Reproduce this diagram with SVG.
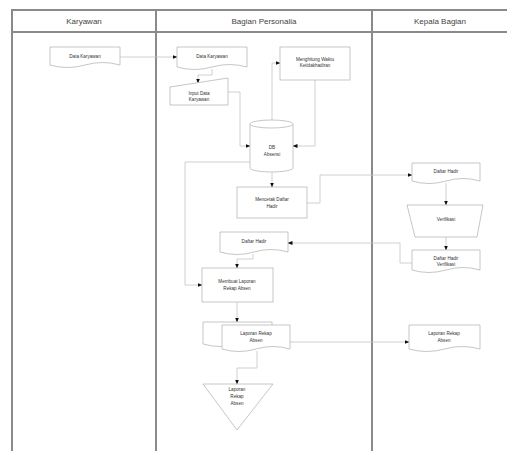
<svg xmlns="http://www.w3.org/2000/svg" width="507" height="451" viewBox="0 0 507 451">
<style>
.lane{stroke:#8a8a8a;stroke-width:2;fill:none}
.hd{font-family:"Liberation Sans",Arial,sans-serif;font-size:8px;fill:#444;text-anchor:middle}
.sh{fill:#fff;stroke:#b8b8b8;stroke-width:0.8}
.t{font-family:"Liberation Sans",Arial,sans-serif;font-size:4.6px;fill:#333;text-anchor:middle}
.c{fill:none;stroke:#c4c4c4;stroke-width:0.8;marker-end:url(#ah)}
</style>
<defs>
<marker id="ah" viewBox="0 0 10 10" refX="9" refY="5" markerWidth="5" markerHeight="5" markerUnits="userSpaceOnUse" orient="auto">
<path d="M0,1 L10,5 L0,9 Z" fill="#111"/>
</marker>
</defs>
<rect width="507" height="451" fill="#fff"/>
<g id="lanes">
<path class="lane" d="M12,451 V10 H507 M12,32 H507 M156,10 V451 M372,10 V451"/>
<text class="hd" x="84" y="24">Karyawan</text>
<text class="hd" x="264" y="24">Bagian Personalia</text>
<text class="hd" x="440" y="24">Kepala Bagian</text>
</g>
<g id="connectors">
<path class="c" d="M120,57 H177"/>
<path class="c" d="M212,69 V75 H198 V83"/>
<path class="c" d="M228,92 H240 V146 H250"/>
<path class="c" d="M272,122 V63 H280"/>
<path class="c" d="M315,80 V146 H293"/>
<path class="c" d="M272,172 V187"/>
<path class="c" d="M307,203 H320 V175 H412"/>
<path class="c" d="M446,183 V205"/>
<path class="c" d="M446,237 V250"/>
<path class="c" d="M412,263 H400 V243 H288"/>
<path class="c" d="M253,254 V259 H237 V268"/>
<path class="c" d="M250,162 H185 V285 H202"/>
<path class="c" d="M237,302 V322"/>
<path class="c" d="M290,342 H409"/>
<path class="c" d="M257,351 V368 H237 V384"/>
</g>
<g id="doc-data-karyawan-1">
<path class="sh" d="M50,47 H120 V65 Q102.5,60 85,65 T50,65 Z"/>
<text class="t" x="85" y="58">Data Karyawan</text>
</g>
<g id="doc-data-karyawan-2">
<path class="sh" d="M177,47 H247 V67 Q229.5,62 212,67 T177,67 Z"/>
<text class="t" x="212" y="58">Data Karyawan</text>
</g>
<g id="input-data-karyawan">
<path class="sh" d="M170,87 L228,78 V105 H170 Z"/>
<text class="t" x="199" y="95">Input Data</text>
<text class="t" x="199" y="101">Karyawan</text>
</g>
<g id="menghitung">
<rect class="sh" x="280" y="47" width="70" height="33"/>
<text class="t" x="315" y="61">Menghitung Waktu</text>
<text class="t" x="315" y="67">Ketidakhadiran</text>
</g>
<g id="db-absensi">
<path class="sh" d="M250,124 A21.5,4 0 0 1 293,124 V168 A21.5,4 0 0 1 250,168 Z"/>
<path class="sh" fill="none" d="M250,124 A21.5,4 0 0 0 293,124"/>
<text class="t" x="272" y="149">DB</text>
<text class="t" x="272" y="156">Absensi</text>
</g>
<g id="mencetak-daftar-hadir">
<rect class="sh" x="237" y="187" width="70" height="31"/>
<text class="t" x="272" y="201">Mencetak Daftar</text>
<text class="t" x="272" y="208">Hadir</text>
</g>
<g id="doc-daftar-hadir-kb">
<path class="sh" d="M412,163 H480 V181 Q463,176 446,181 T412,181 Z"/>
<text class="t" x="446" y="173">Daftar Hadir</text>
</g>
<g id="verifikasi">
<path class="sh" d="M407,205 H483 L477,237 H415 Z"/>
<text class="t" x="446" y="221">Verifikasi</text>
</g>
<g id="doc-daftar-hadir-verifikasi">
<path class="sh" d="M412,250 H480 V270 Q463,265 446,270 T412,270 Z"/>
<text class="t" x="446" y="260">Daftar Hadir</text>
<text class="t" x="446" y="266">Verifikasi</text>
</g>
<g id="doc-daftar-hadir-bp">
<path class="sh" d="M220,232 H288 V252 Q271,247 254,252 T220,252 Z"/>
<text class="t" x="254" y="243">Daftar Hadir</text>
</g>
<g id="membuat-laporan">
<rect class="sh" x="202" y="268" width="71" height="34"/>
<text class="t" x="237" y="283">Membuat Laporan</text>
<text class="t" x="237" y="290">Rekap Absen</text>
</g>
<g id="multidoc-laporan">
<path class="sh" d="M203,322 H272 V344 Q254.75,339 237.5,344 T203,344 Z"/>
<path class="sh" d="M222,325 H290 V349 Q273,344 256,349 T222,349 Z"/>
<text class="t" x="256" y="335">Laporan Rekap</text>
<text class="t" x="256" y="342">Absen</text>
</g>
<g id="doc-laporan-kb">
<path class="sh" d="M409,325 H480 V349 Q462.25,344 444.5,349 T409,349 Z"/>
<text class="t" x="444" y="335">Laporan Rekap</text>
<text class="t" x="444" y="342">Absen</text>
</g>
<g id="arsip-laporan">
<path class="sh" d="M203,384 H273 L237,430 Z"/>
<text class="t" x="237" y="391">Laporan</text>
<text class="t" x="237" y="398">Rekap</text>
<text class="t" x="237" y="405">Absen</text>
</g>
</svg>
